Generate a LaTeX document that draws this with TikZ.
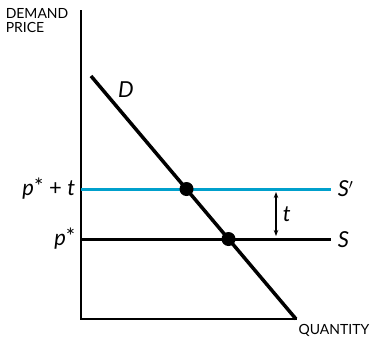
\documentclass[tikz,border=0pt]{standalone}
\usepackage{fontspec}
\setmainfont{Lato}
\usetikzlibrary{arrows.meta}
\definecolor{taxblue}{RGB}{0,160,204}

\begin{document}
\begin{tikzpicture}[x=1pt,y=-1pt,line width=1.5pt,
  lbl/.style={inner sep=1pt,font=\fontsize{22}{26}\selectfont},
  axlbl/.style={inner sep=0pt,font=\fontsize{14}{14}\selectfont,align=left},
  dot/.style={circle,fill=black,inner sep=0pt,minimum size=14pt}]
\path[use as bounding box] (0,0) rectangle (371,341);
% axes
\coordinate (top) at (81,10);
\coordinate (origin) at (81,319);
\coordinate (xend) at (297,319);
\draw[line width=2pt] (top) -- (origin) -- (xend);
\node[axlbl,anchor=north west] (ylab) at (5,8) {DEMAND\\PRICE};
\node[axlbl,anchor=north east] (xlab) at (370,324) {QUANTITY};
% supply curves
\coordinate (sp0) at (81,189);
\coordinate (sp1) at (331,189);
\coordinate (s0) at (81,239);
\coordinate (s1) at (331,239);
\draw[taxblue,line width=3pt] (sp0) -- (sp1);
\draw[line width=3pt] (s0) -- (s1);
\node[lbl,anchor=west] (splab) at (336,189) {\textit{S}$'$};
\node[lbl,anchor=west] (slab) at (336,240) {\textit{S}};
\node[lbl,anchor=east] (pt) at (77,189) {\textit{p}\raisebox{1pt}{*} + \textit{t}};
\node[lbl,anchor=east] (p) at (77,239) {\textit{p}\raisebox{1pt}{*}};
% demand
\coordinate (d0) at (91,76);
\coordinate (d1) at (296,319);
\draw[line width=3.5pt] (d0) -- (d1);
\node[lbl] (dlab) at (126,90) {\textit{D}};
\node[dot] (e1) at (186.5,189) {};
\node[dot] (e0) at (228.5,239) {};
% tax
\coordinate (t0) at (276,192);
\coordinate (t1) at (276,236);
\draw[{Stealth[length=6pt]}-{Stealth[length=6pt]},line width=1.2pt] (t0) -- (t1);
\node[lbl,anchor=west] (tlab) at (281,214) {\textit{t}};
\end{tikzpicture}
\end{document}
